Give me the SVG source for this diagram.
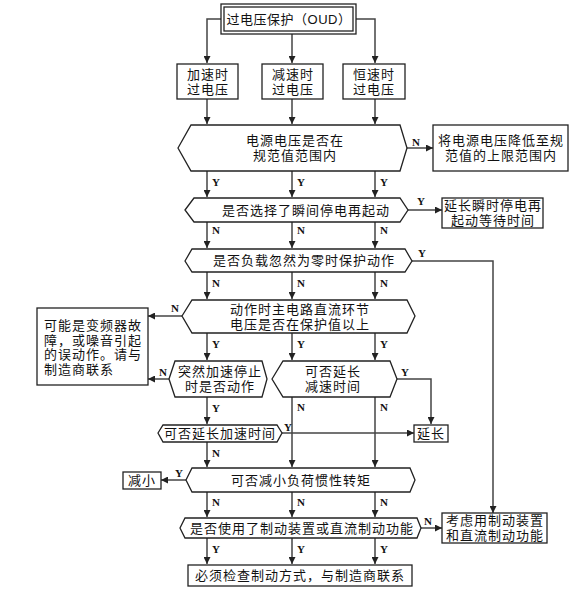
<svg xmlns="http://www.w3.org/2000/svg" width="586" height="590" viewBox="0 0 586 590">
<defs>
<marker id="ah" viewBox="0 0 8 8" refX="8" refY="4" markerWidth="7" markerHeight="7" markerUnits="userSpaceOnUse" orient="auto">
<path d="M0,0 L8,4 L0,8 Z" fill="#222"/>
</marker>
<style>
.s{fill:#fff;stroke:#222;stroke-width:1.3}
.c{fill:none;stroke:#444;stroke-width:1.5;marker-end:url(#ah)}
.t{font-family:"Liberation Sans","Noto Sans CJK SC",sans-serif;font-size:13px;letter-spacing:1px;fill:#111;text-anchor:middle;dominant-baseline:central}
.tl{text-anchor:start}
.l{font-family:"Liberation Serif",serif;font-size:11px;font-weight:bold;fill:#111;dominant-baseline:central}
</style>
</defs>
<rect width="586" height="590" fill="#fff"/>
<g id="connectors">
<polyline class="c" points="221,19 207,19 207,63"/>
<polyline class="c" points="292,34 292,63"/>
<polyline class="c" points="355,19 375,19 375,63"/>
<polyline class="c" points="207,99 207,124"/>
<polyline class="c" points="292,99 292,124"/>
<polyline class="c" points="375,99 375,124"/>
<polyline class="c" points="407,148 433,148"/>
<polyline class="c" points="207,171 207,197"/>
<polyline class="c" points="292,171 292,197"/>
<polyline class="c" points="375,171 375,197"/>
<polyline class="c" points="408,210 442,210"/>
<polyline class="c" points="207,222 207,248"/>
<polyline class="c" points="292,222 292,248"/>
<polyline class="c" points="375,222 375,248"/>
<polyline class="c" points="412,261 493,261 493,513"/>
<polyline class="c" points="207,272 207,299"/>
<polyline class="c" points="292,272 292,299"/>
<polyline class="c" points="375,272 375,299"/>
<polyline class="c" points="182,316 148,316"/>
<polyline class="c" points="207,333 207,360"/>
<polyline class="c" points="292,333 292,360"/>
<polyline class="c" points="375,333 375,360"/>
<polyline class="c" points="169,379 148,379"/>
<polyline class="c" points="397,379 431,379 431,424"/>
<polyline class="c" points="207,397 207,424"/>
<polyline class="c" points="282,433 414,433"/>
<polyline class="c" points="292,397 292,467"/>
<polyline class="c" points="375,397 375,467"/>
<polyline class="c" points="207,442 207,467"/>
<polyline class="c" points="186,480 161,480"/>
<polyline class="c" points="207,492 207,517"/>
<polyline class="c" points="292,492 292,517"/>
<polyline class="c" points="375,492 375,517"/>
<polyline class="c" points="421,528 442,528"/>
<polyline class="c" points="207,538 207,564"/>
<polyline class="c" points="292,538 292,564"/>
<polyline class="c" points="375,538 375,564"/>
</g>
<g id="labels">
<text class="l" x="412" y="142">N</text>
<text class="l" x="212" y="182">Y</text>
<text class="l" x="297" y="182">Y</text>
<text class="l" x="380" y="182">Y</text>
<text class="l" x="417" y="201">Y</text>
<text class="l" x="212" y="230">N</text>
<text class="l" x="297" y="230">N</text>
<text class="l" x="380" y="230">N</text>
<text class="l" x="418" y="253">Y</text>
<text class="l" x="212" y="283">N</text>
<text class="l" x="297" y="283">N</text>
<text class="l" x="380" y="283">N</text>
<text class="l" x="171" y="308">N</text>
<text class="l" x="212" y="344">Y</text>
<text class="l" x="297" y="344">Y</text>
<text class="l" x="380" y="344">Y</text>
<text class="l" x="159" y="372">N</text>
<text class="l" x="401" y="372">Y</text>
<text class="l" x="212" y="408">Y</text>
<text class="l" x="297" y="407">N</text>
<text class="l" x="380" y="407">N</text>
<text class="l" x="284" y="427">Y</text>
<text class="l" x="212" y="453">N</text>
<text class="l" x="175" y="473">Y</text>
<text class="l" x="212" y="502">N</text>
<text class="l" x="297" y="502">N</text>
<text class="l" x="380" y="502">N</text>
<text class="l" x="424" y="521">N</text>
<text class="l" x="212" y="549">Y</text>
<text class="l" x="297" y="549">Y</text>
<text class="l" x="380" y="549">Y</text>
</g>
<g id="n-top">
<rect class="s" x="221" y="4" width="135" height="30"/>
<rect class="s" x="224" y="7" width="129" height="24"/>
<text class="t" x="289" y="19" style="letter-spacing:0.5px">过电压保护（OUD）</text>
</g>
<g id="n-acc">
<rect class="s" x="177" y="64" width="61" height="35"/>
<text class="t" x="208" y="74">加速时<tspan x="208" dy="15">过电压</tspan></text>
</g>
<g id="n-dec">
<rect class="s" x="262" y="64" width="61" height="35"/>
<text class="t" x="293" y="74">减速时<tspan x="293" dy="15">过电压</tspan></text>
</g>
<g id="n-const">
<rect class="s" x="343" y="64" width="62" height="35"/>
<text class="t" x="374" y="74">恒速时<tspan x="374" dy="15">过电压</tspan></text>
</g>
<g id="n-q1">
<polygon class="s" points="178,148 191,125 400,125 407,148 400,171 191,171"/>
<text class="t" x="295" y="140">电源电压是否在<tspan x="295" dy="15">规范值范围内</tspan></text>
</g>
<g id="n-r1">
<rect class="s" x="433" y="125" width="135" height="46"/>
<text class="t" x="501" y="140">将电源电压降低至规<tspan x="501" dy="15">范值的上限范围内</tspan></text>
</g>
<g id="n-q2">
<polygon class="s" points="185,210 194,198 400,198 408,210 400,222 194,222"/>
<text class="t" x="306" y="210">是否选择了瞬间停电再起动</text>
</g>
<g id="n-r2">
<rect class="s" x="442" y="198" width="101" height="30"/>
<text class="t" x="493" y="205.5">延长瞬时停电再<tspan x="493" dy="14.6">起动等待时间</tspan></text>
</g>
<g id="n-q3">
<polygon class="s" points="185,261 192,249 405,249 412,261 405,272 192,272"/>
<text class="t" x="304" y="260.5">是否负载忽然为零时保护动作</text>
</g>
<g id="n-q4">
<polygon class="s" points="182,316 192,300 407,300 415,316 407,333 192,333"/>
<text class="t" x="300" y="309">动作时主电路直流环节<tspan x="300" dy="15">电压是否在保护值以上</tspan></text>
</g>
<g id="n-r4">
<rect class="s" x="37" y="308" width="111" height="77"/>
<text class="t tl" x="44" y="325">可能是变频器故<tspan x="44" dy="14.6">障，或噪音引起</tspan><tspan x="44" dy="14.6">的误动作。请与</tspan><tspan x="44" dy="14.6">制造商联系</tspan></text>
</g>
<g id="n-q5">
<polygon class="s" points="169,379 175,361 262,361 267,379 262,397 175,397"/>
<text class="t" x="220" y="371">突然加速停止<tspan x="220" dy="15">时是否动作</tspan></text>
</g>
<g id="n-q6">
<polygon class="s" points="272,379 283,361 390,361 397,379 390,397 283,397"/>
<text class="t" x="333" y="371">可否延长<tspan x="333" dy="15">减速时间</tspan></text>
</g>
<g id="n-q7">
<polygon class="s" points="158,433 163,425 277,425 282,433 277,442 163,442"/>
<text class="t" x="220" y="433">可否延长加速时间</text>
</g>
<g id="n-ext">
<rect class="s" x="414" y="425" width="34" height="17"/>
<text class="t" x="431" y="433">延长</text>
</g>
<g id="n-q8">
<polygon class="s" points="186,480 192,468 410,468 415,480 410,492 192,492"/>
<text class="t" x="301" y="480">可否减小负荷惯性转矩</text>
</g>
<g id="n-red">
<rect class="s" x="123" y="472" width="38" height="17"/>
<text class="t" x="142" y="480">减小</text>
</g>
<g id="n-q9">
<polygon class="s" points="180,528 185,518 417,518 421,528 417,538 185,538"/>
<text class="t" x="302" y="528">是否使用了制动装置或直流制动功能</text>
</g>
<g id="n-brake">
<rect class="s" x="442" y="513" width="105" height="30"/>
<text class="t" x="495" y="520.5">考虑用制动装置<tspan x="495" dy="14.6">和直流制动功能</tspan></text>
</g>
<g id="n-end">
<rect class="s" x="188" y="565" width="224" height="21"/>
<text class="t" x="300" y="575">必须检查制动方式，与制造商联系</text>
</g>
</svg>
